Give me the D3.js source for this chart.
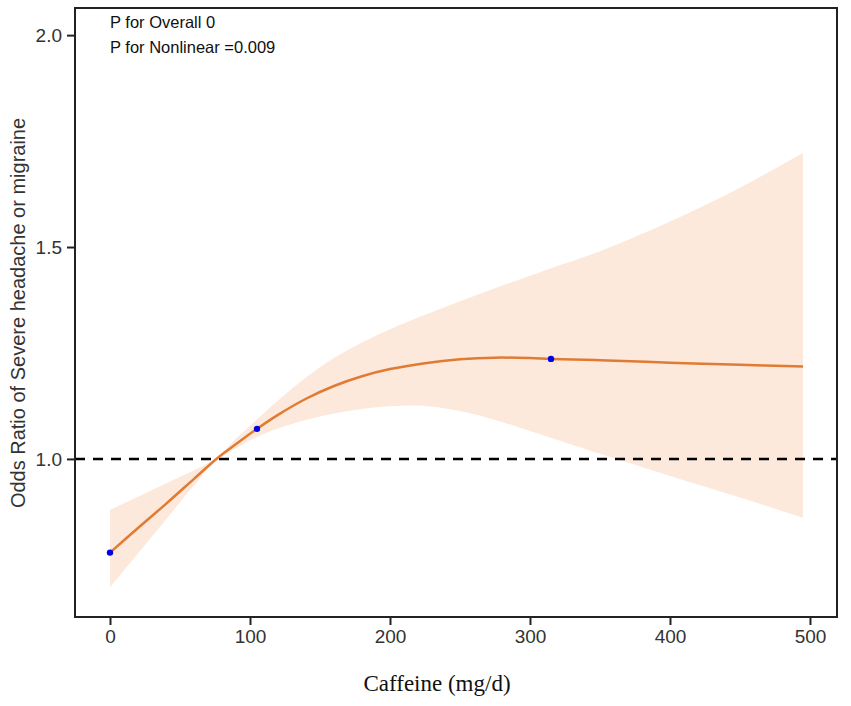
<!DOCTYPE html>
<html>
<head>
<meta charset="utf-8">
<script src="https://cdn.jsdelivr.net/npm/d3@7"></script>
<style>
  body { margin: 0; background: #fff; }
  .axis text { font-family: "Liberation Sans", Arial, sans-serif; font-size: 19px; fill: #333; }
  .axis line { stroke: #222; stroke-width: 2px; }
</style>
</head>
<body>
<div id="chart-area"></div>
<script>
// restricted cubic spline: caffeine intake vs odds ratio
const caffeine = [0, 20, 40, 60, 76, 90, 105, 120, 140, 160, 180, 200, 225, 250, 275, 300, 315, 350, 400, 450, 495]
const oddsRatio = [0.779, 0.837, 0.894, 0.953, 1.000, 1.035, 1.071, 1.104, 1.142, 1.172, 1.195, 1.212, 1.226, 1.235, 1.239, 1.238, 1.236, 1.233, 1.227, 1.222, 1.218]
const lowerCI = [0.697, 0.777, 0.857, 0.937, 0.997, 1.025, 1.052, 1.072, 1.092, 1.107, 1.118, 1.124, 1.125, 1.113, 1.092, 1.066, 1.050, 1.012, 0.960, 0.909, 0.861]
const upperCI = [0.880, 0.911, 0.942, 0.973, 1.003, 1.048, 1.093, 1.138, 1.192, 1.238, 1.275, 1.306, 1.340, 1.372, 1.403, 1.432, 1.450, 1.490, 1.560, 1.640, 1.722]
const knots = [0, 105, 315]
const xTicks = [0, 100, 200, 300, 400, 500]
const yTicks = [1.0, 1.5, 2.0]
const pTexts = ["P for Overall 0", "P for Nonlinear =0.009"]

const W = 851, H = 706
const MARGIN = { LEFT: 75, RIGHT: 14, TOP: 8, BOTTOM: 89 }
const WIDTH = W - MARGIN.LEFT - MARGIN.RIGHT
const HEIGHT = H - MARGIN.TOP - MARGIN.BOTTOM

const data = caffeine.map((c, i) => ({ c: c, or: oddsRatio[i], lo: lowerCI[i], hi: upperCI[i] }))
const knotData = knots.map(k => ({ c: k, or: oddsRatio[caffeine.indexOf(k)] }))

const svg = d3.select("#chart-area").append("svg")
    .attr("width", W)
    .attr("height", H)

const g = svg.append("g")
    .attr("transform", `translate(${MARGIN.LEFT}, ${MARGIN.TOP})`)

const x = d3.scaleLinear()
    .domain([-25.0, 519.3])
    .range([0, WIDTH])

const y = d3.scaleLinear()
    .domain([0.627, 2.064])
    .range([HEIGHT, 0])

// confidence band
const band = d3.area()
    .x(d => x(d.c))
    .y0(d => y(d.lo))
    .y1(d => y(d.hi))
    .curve(d3.curveCatmullRom.alpha(0.5))

g.append("path")
    .datum(data)
    .attr("d", band)
    .attr("fill", "#fde9dc")

// reference line at OR = 1
g.append("line")
    .attr("x1", 0)
    .attr("x2", WIDTH)
    .attr("y1", y(1))
    .attr("y2", y(1))
    .attr("stroke", "#000")
    .attr("stroke-width", 2.5)
    .attr("stroke-dasharray", "10,8")

// spline curve
const line = d3.line()
    .x(d => x(d.c))
    .y(d => y(d.or))
    .curve(d3.curveCatmullRom.alpha(0.5))

g.append("path")
    .datum(data)
    .attr("d", line)
    .attr("fill", "none")
    .attr("stroke", "#e07b33")
    .attr("stroke-width", 2.5)

g.selectAll("circle.knot")
    .data(knotData)
    .enter().append("circle")
    .attr("class", "knot")
    .attr("cx", d => x(d.c))
    .attr("cy", d => y(d.or))
    .attr("r", 3.2)
    .attr("fill", "#0000e6")

// axes
const xAxisCall = d3.axisBottom(x).tickValues(xTicks).tickSize(8).tickSizeOuter(0).tickPadding(5)
g.append("g")
    .attr("class", "x axis")
    .attr("transform", `translate(0, ${HEIGHT})`)
    .call(xAxisCall)
    .call(a => a.select(".domain").remove())

const yAxisCall = d3.axisLeft(y).tickValues(yTicks).tickFormat(d3.format(".1f")).tickSize(8).tickSizeOuter(0).tickPadding(5)
g.append("g")
    .attr("class", "y axis")
    .call(yAxisCall)
    .call(a => a.select(".domain").remove())

// frame
g.append("rect")
    .attr("x", 0)
    .attr("y", 0)
    .attr("width", WIDTH)
    .attr("height", HEIGHT)
    .attr("fill", "none")
    .attr("stroke", "#222")
    .attr("stroke-width", 2)

// p-value annotations
g.selectAll("text.pval")
    .data(pTexts)
    .enter().append("text")
    .attr("class", "pval")
    .attr("x", 35)
    .attr("y", (d, i) => 20 + i * 25)
    .attr("font-family", "Liberation Sans, Arial, sans-serif")
    .attr("font-size", "16.5px")
    .attr("fill", "#111")
    .text(d => d)

// X label
svg.append("text")
    .attr("x", 437)
    .attr("y", 691)
    .attr("font-family", "Liberation Serif, Times New Roman, serif")
    .attr("font-size", "23px")
    .attr("text-anchor", "middle")
    .attr("fill", "#111")
    .text("Caffeine (mg/d)")

// Y label
svg.append("text")
    .attr("transform", "translate(25, 313) rotate(-90)")
    .attr("font-family", "Liberation Sans, Arial, sans-serif")
    .attr("font-size", "20px")
    .attr("text-anchor", "middle")
    .attr("fill", "#333")
    .text("Odds Ratio of Severe headache or migraine")
</script>
</body>
</html>
